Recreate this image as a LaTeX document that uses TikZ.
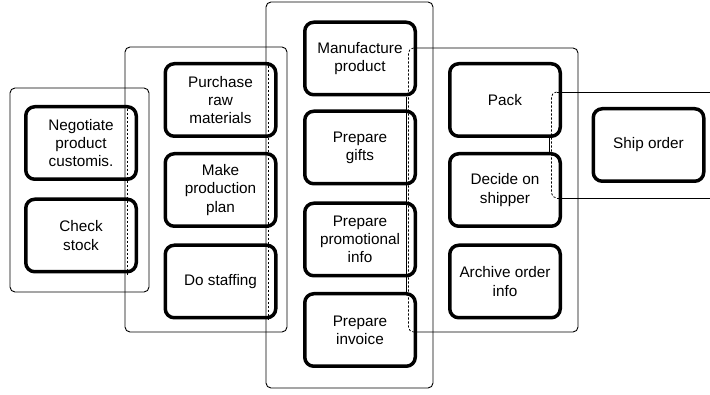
\documentclass[tikz,border=0pt]{standalone}
\usepackage{fontspec}
\setmainfont{Liberation Sans}
\begin{document}
\begin{tikzpicture}[x=1pt,y=-1pt,
  task/.style={draw, line width=3.5pt, rounded corners=9pt, minimum width=110.5pt, minimum height=72.5pt, align=center, font=\fontsize{15.3}{18.3}\selectfont, inner sep=0pt},
  grp/.style={draw, line width=0.9pt, rounded corners=5pt},
  dsh/.style={draw, line width=0.8pt, dash pattern=on 2.2pt off 1.8pt, rounded corners=5pt},
  brk/.style={draw, line width=0.9pt},
]
\useasboundingbox (0,0) rectangle (710,395);
\clip (0,0) rectangle (710,395);
% groups
\draw[grp] (10,88) rectangle (149,292);
\draw[grp] (125,47) rectangle (287,332);
\draw[grp] (266,2) rectangle (433,388);
\draw[grp] (413.5,48) -- (578,48) -- (578,332) -- (413.5,332);
\draw[dsh] (413.5,48) -- (408.5,48) -- (408.5,332) -- (413.5,332);
\draw[grp] (556.5,92) -- (720,92);
\draw[grp] (556.5,198) -- (720,198);
\draw[dsh] (556.5,92) -- (551.5,92) -- (551.5,198) -- (556.5,198);
% tasks
\node[task] (neg) at (81,143) {Negotiate\\product\\customis.};
\node[task] (chk) at (81,235.5) {Check\\stock};
\node[task] (pur) at (220.5,100) {Purchase\\raw\\materials};
\node[task] (mpp) at (220.5,190) {Make\\production\\plan};
\node[task] (stf) at (220.5,281.5) {Do staffing};
\node[task] (man) at (360,58.5) {Manufacture\\product};
\node[task] (gif) at (360,147.5) {Prepare\\gifts};
\node[task] (pro) at (360,239.5) {Prepare\\promotional\\info};
\node[task] (inv) at (360,330) {Prepare\\invoice};
\node[task] (pck) at (505,100) {Pack};
\node[task] (dec) at (505,190) {Decide on\\shipper};
\node[task] (arc) at (505,281.5) {Archive order\\info};
\node[task] (shp) at (648.5,145) {Ship order};
% brackets
\draw[dsh] (127,105) -- (127,275);
\draw[dsh] (268,62) -- (268,320);
\draw[brk] (406.5,97) -- (406.5,293);
\draw[brk] (549.5,138) -- (549.5,152);
\end{tikzpicture}
\end{document}
